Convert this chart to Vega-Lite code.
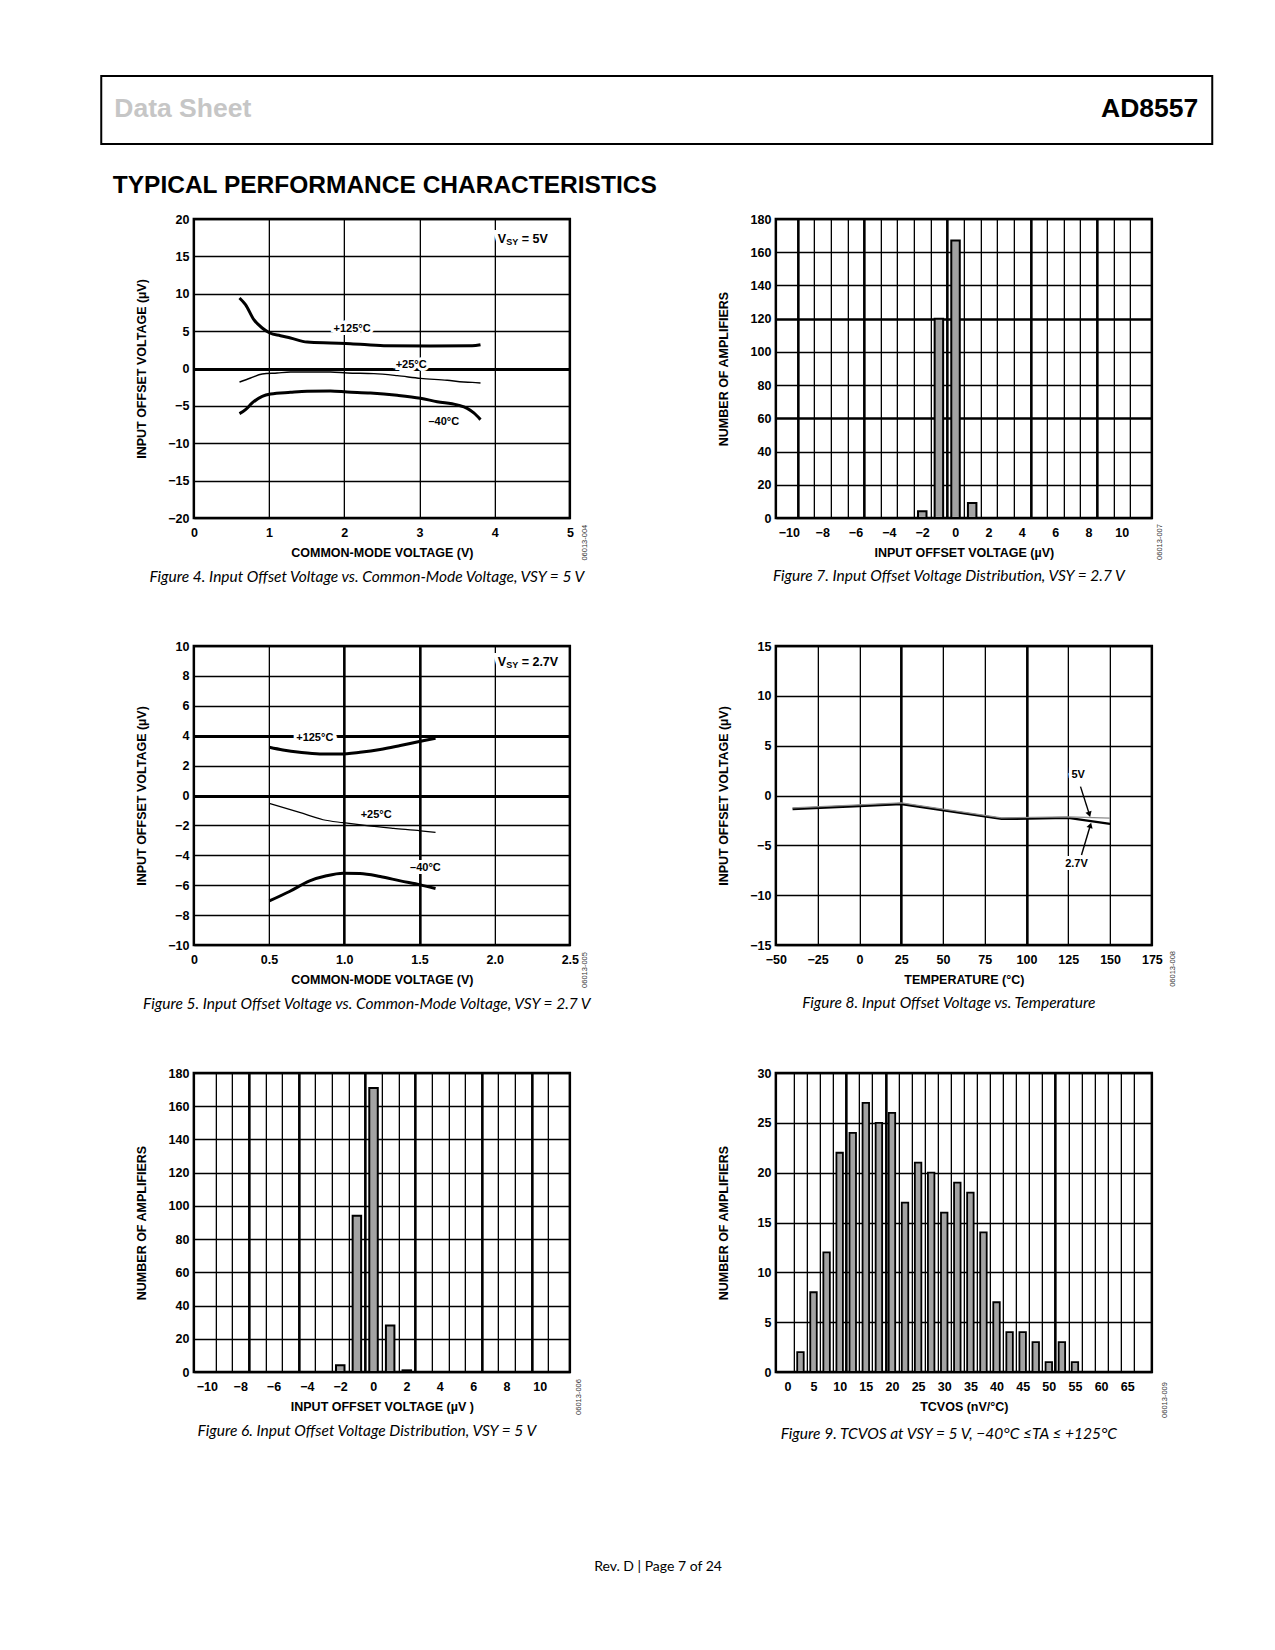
{
"$schema":"https://vega.github.io/schema/vega-lite/v6.json",
"background":"white",
"padding":{"left":100,"top":75,"right":0,"bottom":10},
"title":{"text":"Rev. D | Page 7 of 24","orient":"bottom","anchor":"middle","frame":"bounds","dx":-27.5,"font":"Lato","fontStyle":"normal","fontWeight":"normal","fontSize":14,"offset":116,"color":"black"},
"spacing":12,
"center":true,
"vconcat":[
{
 "width":1111,"height":68,
 "view":{"stroke":"black","strokeWidth":2},
 "title":{"text":"TYPICAL PERFORMANCE CHARACTERISTICS","orient":"bottom","anchor":"start","frame":"bounds","dx":11.5,"font":"Liberation Sans","fontStyle":"normal","fontWeight":"bold","fontSize":24.5,"offset":30,"color":"black"},
 "data":{"values":[{"label":"Data Sheet","side":0},{"label":"AD8557","side":1}]},
 "encoding":{"x":{"field":"side","type":"quantitative","scale":{"domain":[0,1]},"axis":null},"y":{"datum":0.4,"type":"quantitative","scale":{"domain":[0,1]},"axis":null},"text":{"field":"label"}},
 "layer":[
  {"transform":[{"filter":"datum.side === 0"}],"mark":{"type":"text","align":"left","baseline":"alphabetic","font":"Liberation Sans","fontWeight":"bold","fontSize":26.5,"color":"#c6c6c6","dx":13}},
  {"transform":[{"filter":"datum.side === 1"}],"mark":{"type":"text","align":"right","baseline":"alphabetic","font":"Liberation Sans","fontWeight":"bold","fontSize":26.5,"color":"black","dx":-14}},
  {"data":{"values":[{"side":1.0513}]},"mark":{"type":"point","opacity":0,"size":1}}
 ]
},
{
 "columns":2,"bounds":"flush","spacing":{"row":128,"column":206},
 "concat":[
 {
  "width":376,"height":299,
  "title":{"text":"Figure 4. Input Offset Voltage vs. Common-Mode Voltage, VSY = 5 V"},
  "data":{"values":[
   {"t":"125","x":0.607,"y":9.43},{"t":"125","x":0.687,"y":8.54},{"t":"125","x":0.798,"y":6.53},{"t":"125","x":0.909,"y":5.42},{"t":"125","x":1.011,"y":4.75},{"t":"125","x":1.152,"y":4.39},{"t":"125","x":1.285,"y":4.08},{"t":"125","x":1.507,"y":3.54},{"t":"125","x":1.817,"y":3.41},{"t":"125","x":2.083,"y":3.32},{"t":"125","x":2.527,"y":3.05},{"t":"125","x":3.147,"y":3.01},{"t":"125","x":3.701,"y":3.05},{"t":"125","x":3.812,"y":3.19},
   {"t":"25","x":0.607,"y":-1.81},{"t":"25","x":0.754,"y":-1.27},{"t":"25","x":0.909,"y":-0.74},{"t":"25","x":1.108,"y":-0.6},{"t":"25","x":1.285,"y":-0.47},{"t":"25","x":1.817,"y":-0.47},{"t":"25","x":2.039,"y":-0.6},{"t":"25","x":2.394,"y":-0.69},{"t":"25","x":2.704,"y":-0.96},{"t":"25","x":3.014,"y":-1.32},{"t":"25","x":3.369,"y":-1.58},{"t":"25","x":3.59,"y":-1.81},{"t":"25","x":3.701,"y":-1.85},{"t":"25","x":3.812,"y":-1.94},
   {"t":"-40","x":0.607,"y":-6.04},{"t":"-40","x":0.687,"y":-5.51},{"t":"-40","x":0.776,"y":-4.61},{"t":"-40","x":0.909,"y":-3.72},{"t":"-40","x":1.02,"y":-3.41},{"t":"-40","x":1.285,"y":-3.19},{"t":"-40","x":1.507,"y":-3.05},{"t":"-40","x":1.817,"y":-3.01},{"t":"-40","x":2.039,"y":-3.14},{"t":"-40","x":2.349,"y":-3.28},{"t":"-40","x":2.704,"y":-3.59},{"t":"-40","x":3.014,"y":-3.99},{"t":"-40","x":3.236,"y":-4.44},{"t":"-40","x":3.502,"y":-4.88},{"t":"-40","x":3.635,"y":-5.33},{"t":"-40","x":3.723,"y":-5.95},{"t":"-40","x":3.812,"y":-6.84}
  ]},
  "encoding":{
   "x":{"field":"x","type":"quantitative","scale":{"domain":[0,5],"nice":false,"zero":false},"axis":{"title":"COMMON-MODE VOLTAGE (V)","values":[0,0.5,1,1.5,2,2.5,3,3.5,4,4.5,5],"format":"d","labelOverlap":false,"labelExpr":"datum.value % 1 === 0 ? datum.label : ''"}},
   "y":{"field":"y","type":"quantitative","scale":{"domain":[-20,20],"nice":false,"zero":false},"axis":{"title":"INPUT OFFSET VOLTAGE (µV)","values":[-20,-15,-10,-5,0,5,10,15,20],"format":"d","labelOverlap":false,"gridWidth":{"condition":{"test":"datum.value === 0","value":3},"value":1.3}}}
  },
  "layer":[
   {"data":{"values":[{"x":2.105,"y":5.33,"label":"+125°C"},{"x":2.89,"y":0.47,"label":"+25°C"},{"x":3.324,"y":-7.16,"label":"–40°C"}]},"mark":{"type":"text","fontSize":11,"stroke":"white","strokeWidth":6,"color":"white"},"encoding":{"text":{"field":"label"}}},
   {"data":{"values":[{"x":4.04,"y":17.3}]},"mark":{"type":"text","text":"V","align":"left","fontSize":12.5,"stroke":"white","strokeWidth":8,"color":"white"}},
   {"data":{"values":[{"x":4.04,"y":17.3}]},"mark":{"type":"text","text":"SY","align":"left","fontSize":9,"dx":8.5,"dy":3,"stroke":"white","strokeWidth":8,"color":"white"}},
   {"data":{"values":[{"x":4.04,"y":17.3}]},"mark":{"type":"text","text":"= 5V","align":"left","fontSize":12.5,"dx":24,"stroke":"white","strokeWidth":8,"color":"white"}},
   {"transform":[{"filter":"datum.t !== '25'"}],"mark":{"type":"line","interpolate":"monotone","color":"black","strokeWidth":3},"encoding":{"detail":{"field":"t"}}},
   {"transform":[{"filter":"datum.t === '25'"}],"mark":{"type":"line","interpolate":"monotone","color":"black","strokeWidth":1.4}},
   {"data":{"values":[{"x":2.105,"y":5.33,"label":"+125°C"},{"x":2.89,"y":0.47,"label":"+25°C"},{"x":3.324,"y":-7.16,"label":"–40°C"}]},"mark":{"type":"text","fontSize":11},"encoding":{"text":{"field":"label"}}},
   {"data":{"values":[{"x":4.04,"y":17.3}]},"mark":{"type":"text","text":"V","align":"left","fontSize":12.5}},
   {"data":{"values":[{"x":4.04,"y":17.3}]},"mark":{"type":"text","text":"SY","align":"left","fontSize":9,"dx":8.5,"dy":3}},
   {"data":{"values":[{"x":4.04,"y":17.3}]},"mark":{"type":"text","text":"= 5V","align":"left","fontSize":12.5,"dx":24}},
   {"data":{"values":[{"x":5.2,"y":-23.3}]},"mark":{"type":"text","text":"06013-004","angle":270,"fontSize":7.5,"fontWeight":"normal","color":"#333333"}}
  ]
 },
 {
  "width":376,"height":299,
  "title":{"text":"Figure 7. Input Offset Voltage Distribution, VSY = 2.7 V"},
  "encoding":{
   "x":{"field":"v","type":"quantitative","scale":{"domain":[-10.5,11.5],"nice":false,"zero":false},"axis":{"title":"INPUT OFFSET VOLTAGE (µV)","values":[-9.5,-8.5,-7.5,-6.5,-5.5,-4.5,-3.5,-2.5,-1.5,-0.5,0.5,1.5,2.5,3.5,4.5,5.5,6.5,7.5,8.5,9.5,10.5],"labelOverlap":false,"labelOffset":-8.55,"labelExpr":"(datum.value - 0.5) % 2 === 0 ? format(datum.value - 0.5, 'd') : ''","gridWidth":{"condition":{"test":"indexof([-9.5,-5.5,-0.5,4.5,8.5], datum.value) >= 0","value":2.6},"value":1.3}}},
   "y":{"field":"n","type":"quantitative","scale":{"domain":[0,180],"nice":false},"axis":{"title":"NUMBER OF AMPLIFIERS","values":[0,20,40,60,80,100,120,140,160,180],"format":"d","labelOverlap":false,"gridWidth":{"condition":{"test":"datum.value === 60 || datum.value === 120","value":2.6},"value":1.3}}}
  },
  "layer":[
   {"data":{"values":[{"v":-2,"n":4},{"v":-1,"n":120},{"v":0,"n":167},{"v":1,"n":9}]},"mark":{"type":"bar","size":8.5,"fill":"#a3a3a3","stroke":"black","strokeWidth":2}},
   {"data":{"values":[{"v":12.29,"n":-14.45}]},"mark":{"type":"text","text":"06013-007","angle":270,"fontSize":7.5,"fontWeight":"normal","color":"#333333"}}
  ]
 },
 {
  "width":376,"height":299,
  "title":{"text":"Figure 5. Input Offset Voltage vs. Common-Mode Voltage, VSY = 2.7 V"},
  "data":{"values":[
   {"t":"125","x":0.502,"y":3.23},{"t":"125","x":0.592,"y":3.05},{"t":"125","x":0.703,"y":2.89},{"t":"125","x":0.837,"y":2.78},{"t":"125","x":0.971,"y":2.78},{"t":"125","x":1.105,"y":2.89},{"t":"125","x":1.239,"y":3.07},{"t":"125","x":1.373,"y":3.34},{"t":"125","x":1.507,"y":3.63},{"t":"125","x":1.607,"y":3.83},
   {"t":"25","x":0.502,"y":-0.53},{"t":"25","x":0.703,"y":-1.13},{"t":"25","x":0.859,"y":-1.62},{"t":"25","x":0.993,"y":-1.82},{"t":"25","x":1.15,"y":-2.02},{"t":"25","x":1.328,"y":-2.2},{"t":"25","x":1.507,"y":-2.36},{"t":"25","x":1.607,"y":-2.47},
   {"t":"-40","x":0.502,"y":-7.05},{"t":"-40","x":0.636,"y":-6.42},{"t":"-40","x":0.77,"y":-5.71},{"t":"-40","x":0.882,"y":-5.37},{"t":"-40","x":0.993,"y":-5.2},{"t":"-40","x":1.105,"y":-5.22},{"t":"-40","x":1.239,"y":-5.42},{"t":"-40","x":1.373,"y":-5.71},{"t":"-40","x":1.507,"y":-5.98},{"t":"-40","x":1.607,"y":-6.22}
  ]},
  "encoding":{
   "x":{"field":"x","type":"quantitative","scale":{"domain":[0,2.5],"nice":false,"zero":false},"axis":{"title":"COMMON-MODE VOLTAGE (V)","values":[0,0.5,1,1.5,2,2.5],"labelOverlap":false,"labelExpr":"datum.value === 0 ? '0' : format(datum.value, '.1f')","gridWidth":{"condition":{"test":"datum.value === 1 || datum.value === 1.5","value":2.6},"value":1.3}}},
   "y":{"field":"y","type":"quantitative","scale":{"domain":[-10,10],"nice":false,"zero":false},"axis":{"title":"INPUT OFFSET VOLTAGE (µV)","values":[-10,-8,-6,-4,-2,0,2,4,6,8,10],"format":"d","labelOverlap":false,"gridWidth":{"condition":{"test":"datum.value === 0 || datum.value === 4","value":2.8},"value":1.3}}}
  },
  "layer":[
   {"data":{"values":[{"x":0.804,"y":3.83,"label":"+125°C"},{"x":1.212,"y":-1.31,"label":"+25°C"},{"x":1.54,"y":-4.88,"label":"–40°C"}]},"mark":{"type":"text","fontSize":11,"stroke":"white","strokeWidth":6,"color":"white"},"encoding":{"text":{"field":"label"}}},
   {"data":{"values":[{"x":2.02,"y":8.93}]},"mark":{"type":"text","text":"V","align":"left","fontSize":12.5,"stroke":"white","strokeWidth":8,"color":"white"}},
   {"data":{"values":[{"x":2.02,"y":8.93}]},"mark":{"type":"text","text":"SY","align":"left","fontSize":9,"dx":8.5,"dy":3,"stroke":"white","strokeWidth":8,"color":"white"}},
   {"data":{"values":[{"x":2.02,"y":8.93}]},"mark":{"type":"text","text":"= 2.7V","align":"left","fontSize":12.5,"dx":24,"stroke":"white","strokeWidth":8,"color":"white"}},
   {"transform":[{"filter":"datum.t !== '25'"}],"mark":{"type":"line","interpolate":"monotone","color":"black","strokeWidth":3},"encoding":{"detail":{"field":"t"}}},
   {"transform":[{"filter":"datum.t === '25'"}],"mark":{"type":"line","interpolate":"monotone","color":"black","strokeWidth":1.2}},
   {"data":{"values":[{"x":0.804,"y":3.83,"label":"+125°C"},{"x":1.212,"y":-1.31,"label":"+25°C"},{"x":1.54,"y":-4.88,"label":"–40°C"}]},"mark":{"type":"text","fontSize":11},"encoding":{"text":{"field":"label"}}},
   {"data":{"values":[{"x":2.02,"y":8.93}]},"mark":{"type":"text","text":"V","align":"left","fontSize":12.5}},
   {"data":{"values":[{"x":2.02,"y":8.93}]},"mark":{"type":"text","text":"SY","align":"left","fontSize":9,"dx":8.5,"dy":3}},
   {"data":{"values":[{"x":2.02,"y":8.93}]},"mark":{"type":"text","text":"= 2.7V","align":"left","fontSize":12.5,"dx":24}},
   {"data":{"values":[{"x":2.6,"y":-11.67}]},"mark":{"type":"text","text":"06013-005","angle":270,"fontSize":7.5,"fontWeight":"normal","color":"#333333"}}
  ]
 },
 {
  "width":376,"height":299,
  "title":{"text":"Figure 8. Input Offset Voltage vs. Temperature"},
  "data":{"values":[
   {"s":"2.7V","x":-40,"y":-1.35},{"s":"2.7V","x":0,"y":-1.05},{"s":"2.7V","x":25,"y":-0.85},{"s":"2.7V","x":85,"y":-2.35},{"s":"2.7V","x":125,"y":-2.25},{"s":"2.7V","x":150,"y":-2.85},
   {"s":"5V","x":-40,"y":-1.25},{"s":"5V","x":0,"y":-0.95},{"s":"5V","x":25,"y":-0.75},{"s":"5V","x":85,"y":-2.25},{"s":"5V","x":125,"y":-2.15},{"s":"5V","x":150,"y":-2.28}
  ]},
  "encoding":{
   "x":{"field":"x","type":"quantitative","scale":{"domain":[-50,175],"nice":false,"zero":false},"axis":{"title":"TEMPERATURE (°C)","values":[-50,-25,0,25,50,75,100,125,150,175],"format":"d","labelOverlap":false,"gridWidth":{"condition":{"test":"datum.value === 25 || datum.value === 100","value":2.6},"value":1.3}}},
   "y":{"field":"y","type":"quantitative","scale":{"domain":[-15,15],"nice":false,"zero":false},"axis":{"title":"INPUT OFFSET VOLTAGE (µV)","values":[-15,-10,-5,0,5,10,15],"format":"d","labelOverlap":false}}
  },
  "layer":[
   {"data":{"values":[{"x":130.9,"y":2.06,"label":"5V"},{"x":129.9,"y":-6.9,"label":"2.7V"}]},"mark":{"type":"text","fontSize":11,"stroke":"white","strokeWidth":6,"color":"white"},"encoding":{"text":{"field":"label"}}},
   {"transform":[{"filter":"datum.s === '2.7V'"}],"mark":{"type":"line","color":"black","strokeWidth":2.4}},
   {"transform":[{"filter":"datum.s === '5V'"}],"mark":{"type":"line","color":"#8c8c8c","strokeWidth":1.3}},
   {"data":{"values":[{"x":132.3,"y":0.89,"x2":137.6,"y2":-1.89},{"x":132.9,"y":-5.97,"x2":138.2,"y2":-2.99}]},"mark":{"type":"rule","color":"black","strokeWidth":1.4},"encoding":{"x2":{"field":"x2"},"y2":{"field":"y2"}}},
   {"data":{"values":[{"x":137.6,"y":-1.89}]},"mark":{"type":"point","shape":"triangle-down","angle":342.5,"size":40,"filled":true,"color":"black","opacity":1}},
   {"data":{"values":[{"x":138.2,"y":-2.99}]},"mark":{"type":"point","shape":"triangle-up","angle":16.7,"size":40,"filled":true,"color":"black","opacity":1}},
   {"data":{"values":[{"x":130.9,"y":2.06,"label":"5V"},{"x":129.9,"y":-6.9,"label":"2.7V"}]},"mark":{"type":"text","fontSize":11},"encoding":{"text":{"field":"label"}}},
   {"data":{"values":[{"x":187.9,"y":-17.4}]},"mark":{"type":"text","text":"06013-008","angle":270,"fontSize":7.5,"fontWeight":"normal","color":"#333333"}}
  ]
 },
 {
  "width":376,"height":299,
  "title":{"text":"Figure 6. Input Offset Voltage Distribution, VSY = 5 V"},
  "encoding":{
   "x":{"field":"v","type":"quantitative","scale":{"domain":[-10.5,11.5],"nice":false,"zero":false},"axis":{"title":"INPUT OFFSET VOLTAGE (µV )","values":[-9.5,-8.5,-7.5,-6.5,-5.5,-4.5,-3.5,-2.5,-1.5,-0.5,0.5,1.5,2.5,3.5,4.5,5.5,6.5,7.5,8.5,9.5,10.5],"labelOverlap":false,"labelOffset":-8.55,"labelExpr":"(datum.value - 0.5) % 2 === 0 ? format(datum.value - 0.5, 'd') : ''","gridWidth":{"condition":{"test":"indexof([-7.5,-4.5,-0.5,2.5,6.5,9.5], datum.value) >= 0","value":2.6},"value":1.3}}},
   "y":{"field":"n","type":"quantitative","scale":{"domain":[0,180],"nice":false},"axis":{"title":"NUMBER OF AMPLIFIERS","values":[0,20,40,60,80,100,120,140,160,180],"format":"d","labelOverlap":false}}
  },
  "layer":[
   {"data":{"values":[{"v":-2,"n":4},{"v":-1,"n":94},{"v":0,"n":171},{"v":1,"n":28},{"v":2,"n":1}]},"mark":{"type":"bar","size":8.5,"fill":"#a3a3a3","stroke":"black","strokeWidth":2}},
   {"data":{"values":[{"v":12.38,"n":-15.05}]},"mark":{"type":"text","text":"06013-006","angle":270,"fontSize":7.5,"fontWeight":"normal","color":"#333333"}}
  ]
 },
 {
  "width":376,"height":299,
  "title":{"text":"Figure 9. TCVOS at VSY = 5 V, −40°C ≤TA ≤ +125°C"},
  "encoding":{
   "x":{"field":"v","type":"quantitative","scale":{"domain":[-1.25,68.75],"nice":false,"zero":false},"axis":{"title":"TCVOS (nV/°C)","values":[0,1.25,3.75,5,6.25,8.75,10,11.25,13.75,15,16.25,18.75,20,21.25,23.75,25,26.25,28.75,30,31.25,33.75,35,36.25,38.75,40,41.25,43.75,45,46.25,48.75,50,51.25,53.75,55,56.25,58.75,60,61.25,63.75,65,66.25],"format":"d","labelOverlap":false,"labelExpr":"datum.value % 5 === 0 ? datum.label : ''","gridOpacity":{"condition":{"test":"datum.value % 5 === 0","value":0},"value":1},"gridWidth":{"condition":{"test":"indexof([11.25,18.75,51.25], datum.value) >= 0","value":2.6},"value":1.3}}},
   "y":{"field":"n","type":"quantitative","scale":{"domain":[0,30],"nice":false},"axis":{"title":"NUMBER OF AMPLIFIERS","values":[0,5,10,15,20,25,30],"format":"d","labelOverlap":false}}
  },
  "layer":[
   {"data":{"values":[{"v":2.5,"n":2},{"v":5,"n":8},{"v":7.5,"n":12},{"v":10,"n":22},{"v":12.5,"n":24},{"v":15,"n":27},{"v":17.5,"n":25},{"v":20,"n":26},{"v":22.5,"n":17},{"v":25,"n":21},{"v":27.5,"n":20},{"v":30,"n":16},{"v":32.5,"n":19},{"v":35,"n":18},{"v":37.5,"n":14},{"v":40,"n":7},{"v":42.5,"n":4},{"v":45,"n":4},{"v":47.5,"n":3},{"v":50,"n":1},{"v":52.5,"n":3},{"v":55,"n":1}]},"mark":{"type":"bar","size":6.5,"fill":"#a3a3a3","stroke":"black","strokeWidth":1.8}},
   {"data":{"values":[{"v":72.3,"n":-2.81}]},"mark":{"type":"text","text":"06013-009","angle":270,"fontSize":7.5,"fontWeight":"normal","color":"#333333"}}
  ]
 }
 ]
}
],
"config":{
 "view":{"stroke":"black","strokeWidth":2.5},
 "axis":{"domain":false,"ticks":false,"grid":true,"gridColor":"black","gridOpacity":1,"gridWidth":1.3,"labelFont":"Liberation Sans","labelFontWeight":"bold","labelFontSize":12.5,"labelColor":"black","titleFont":"Liberation Sans","titleFontWeight":"bold","titleFontSize":12.5,"titleColor":"black","labelFlush":false,"labelOverlap":false,"labelBound":false},
 "axisX":{"labelPadding":8,"titleY":34,"titleBaseline":"middle"},
 "axisY":{"labelPadding":5,"titleX":-52,"titleBaseline":"middle"},
 "title":{"font":"Lato","fontStyle":"italic","fontWeight":"normal","fontSize":15.5,"color":"black","orient":"bottom","anchor":"middle","frame":"group","dx":-15,"offset":9},
 "text":{"font":"Liberation Sans","fontWeight":"bold","color":"black"}
}
}
